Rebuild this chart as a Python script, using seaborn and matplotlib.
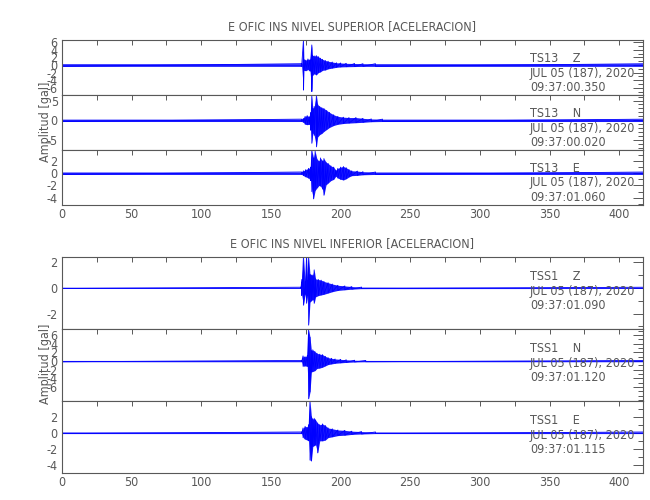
import numpy as np
import pandas as pd
import matplotlib
matplotlib.use("Agg")
import matplotlib.pyplot as plt
from matplotlib.ticker import MultipleLocator, FixedLocator
from matplotlib import font_manager as fm
import seaborn as sns

sns.set_theme(style="white")

# pick a narrow font if one is available
_fonts = fm.fontManager.ttflist
_narrow = [f for f in _fonts if f.name == "Liberation Sans Narrow"]
_cond = [f for f in _fonts if f.name == "DejaVu Sans" and str(f.stretch) in ("condensed", "semi-condensed", "600", "700")]
if _narrow:
    FAMILY, STRETCH, FS = ["Liberation Sans Narrow", "DejaVu Sans"], "normal", 10
elif _cond:
    FAMILY, STRETCH, FS = ["DejaVu Sans", "DejaVu Sans"], "condensed", 9
else:
    FAMILY, STRETCH, FS = ["Liberation Sans", "DejaVu Sans"], "normal", 8.6
plt.rcParams["font.family"] = FAMILY
plt.rcParams["font.stretch"] = STRETCH
plt.rcParams["axes.unicode_minus"] = False

GRAY = "#585858"
BLUE = "#0000ff"

# ---------------- data (envelopes, gal) ----------------
title_top = "E OFIC INS NIVEL SUPERIOR [ACELERACION]"
title_bot = "E OFIC INS NIVEL INFERIOR [ACELERACION]"
ylabel = "Amplitud [gal]"
x_ticks = [0, 50, 100, 150, 200, 250, 300, 350, 400]
y_ticks = [
    [-6, -4, -2, 0, 2, 4, 6],
    [-5, 0, 5],
    [-4, -2, 0, 2],
    [-2, 0, 2],
    [-6, -4, -2, 0, 2, 4, 6],
    [-4, -2, 0, 2],
]

# TS13 Z
t_s13z = [0, 172, 173.3, 173.6, 175, 176.5, 178, 179.3, 179.7, 181, 182.5, 184, 185.5, 187, 189, 191, 194, 197, 200, 204, 210, 216, 225, 420]
up_s13z = [0.35, 0.35, 6.6, 1.5, 1.3, 1.6, 1.4, 5.3, 2.6, 2.4, 2.5, 2.2, 1.8, 1.5, 1.2, 1.0, 0.8, 0.6, 0.55, 0.45, 0.4, 0.35, 0.35, 0.35]
lo_s13z = [-0.35, -0.35, -6.6, -1.4, -1.5, -1.2, -1.6, -7.0, -2.8, -2.3, -2.6, -2.0, -1.8, -1.4, -1.3, -1.0, -0.8, -0.6, -0.5, -0.45, -0.4, -0.35, -0.35, -0.35]

# TS13 N
t_s13n = [0, 172, 173.3, 174.5, 176, 177.5, 178.5, 179.3, 180, 181, 182.6, 183.5, 185, 186.5, 188, 190, 192, 195, 198, 202, 206, 211, 216, 222, 230, 420]
up_s13n = [0.3, 0.3, 0.5, 1.0, 1.2, 0.9, 2.0, 6.2, 3.0, 3.5, 6.3, 4.0, 3.5, 3.2, 3.0, 2.5, 2.0, 1.4, 1.0, 0.8, 0.7, 0.7, 0.5, 0.35, 0.3, 0.3]
lo_s13n = [-0.3, -0.3, -0.5, -1.0, -1.1, -1.0, -2.5, -5.8, -3.2, -3.8, -6.7, -4.2, -3.6, -3.3, -2.8, -2.3, -1.8, -1.3, -1.0, -0.8, -0.7, -0.6, -0.5, -0.35, -0.3, -0.3]

# TS13 E
t_s13e = [0, 172, 173.3, 175, 177, 178.5, 179.3, 180.5, 181.7, 183, 184.5, 185.5, 187, 188, 189.5, 191, 193, 195, 196.5, 198, 200, 202, 204, 206, 208, 212, 216, 225, 420]
up_s13e = [0.2, 0.2, 0.4, 0.6, 0.8, 1.0, 3.8, 2.5, 3.6, 2.3, 2.0, 2.5, 2.0, 2.4, 1.8, 1.6, 1.2, 1.0, 0.5, 0.8, 1.0, 1.1, 0.9, 0.6, 0.4, 0.35, 0.25, 0.2, 0.2]
lo_s13e = [-0.2, -0.2, -0.4, -0.6, -0.8, -1.2, -3.0, -4.2, -2.8, -2.4, -2.0, -2.1, -2.6, -3.6, -1.9, -1.6, -1.2, -1.0, -0.5, -0.8, -1.0, -1.1, -0.9, -0.6, -0.4, -0.35, -0.25, -0.2, -0.2]

# TSS1 Z
t_ss1z = [0, 171.5, 172.1, 173.3, 174.5, 175.5, 176.3, 177, 178, 179, 180, 181, 182, 184, 186, 188, 191, 194, 198, 203, 208, 215, 420]
up_ss1z = [0.05, 0.05, 0.65, 2.45, 0.5, 2.45, 0.6, 2.4, 1.05, 1.0, 1.0, 1.4, 0.7, 0.65, 0.6, 0.5, 0.4, 0.3, 0.2, 0.15, 0.1, 0.06, 0.05]
lo_ss1z = [-0.05, -0.05, -0.6, -1.35, -0.5, -1.2, -0.6, -2.9, -1.1, -1.0, -0.9, -1.2, -0.7, -0.6, -0.55, -0.5, -0.4, -0.3, -0.2, -0.15, -0.1, -0.06, -0.05]

# TSS1 N
t_ss1n = [0, 172, 173, 174.5, 176, 177, 178, 179, 180, 181.5, 183, 185, 187, 189, 191, 193.5, 196, 200, 204, 210, 218, 420]
up_ss1n = [0.15, 0.15, 1.2, 1.0, 1.2, 7.3, 5.5, 2.4, 2.6, 2.2, 1.8, 1.6, 1.5, 1.1, 0.8, 0.65, 0.5, 0.4, 0.3, 0.2, 0.15, 0.15]
lo_ss1n = [-0.15, -0.15, -1.2, -1.1, -1.2, -8.7, -7.1, -2.5, -2.4, -2.2, -1.7, -1.6, -1.4, -1.1, -0.8, -0.65, -0.5, -0.4, -0.3, -0.2, -0.15, -0.15]

# TSS1 E
t_ss1e = [0, 172, 173, 174.5, 176, 177, 178, 179, 180, 181, 182, 183.5, 185, 187, 189, 191, 194, 198, 203, 208, 215, 225, 420]
up_ss1e = [0.1, 0.1, 0.6, 0.8, 0.7, 1.0, 4.0, 2.0, 1.7, 1.8, 1.6, 1.2, 1.0, 1.1, 0.9, 0.6, 0.5, 0.35, 0.3, 0.2, 0.15, 0.1, 0.1]
lo_ss1e = [-0.1, -0.1, -0.6, -0.8, -0.9, -1.0, -3.4, -3.5, -1.7, -1.6, -1.5, -2.5, -1.0, -1.0, -0.9, -0.6, -0.5, -0.35, -0.3, -0.2, -0.15, -0.1, -0.1]

labels = [
    "TS13    Z\nJUL 05 (187), 2020\n09:37:00.350",
    "TS13    N\nJUL 05 (187), 2020\n09:37:00.020",
    "TS13    E\nJUL 05 (187), 2020\n09:37:01.060",
    "TSS1    Z\nJUL 05 (187), 2020\n09:37:01.090",
    "TSS1    N\nJUL 05 (187), 2020\n09:37:01.120",
    "TSS1    E\nJUL 05 (187), 2020\n09:37:01.115",
]

channels = [
    (t_s13z, up_s13z, lo_s13z),
    (t_s13n, up_s13n, lo_s13n),
    (t_s13e, up_s13e, lo_s13e),
    (t_ss1z, up_ss1z, lo_ss1z),
    (t_ss1n, up_ss1n, lo_ss1n),
    (t_ss1e, up_ss1e, lo_ss1e),
]

# layout / axis settings (style, not data)
W, H = 650, 500
left_px, right_px = 62, 643
panels_px = [(40, 95), (95, 150), (150, 205), (257, 329), (329, 401), (401, 473)]
ylims = [(-7.9, 6.6), (-7.5, 6.4), (-5.2, 3.8), (-3.2, 2.4), (-9.2, 7.4), (-5.0, 3.95)]
text_top_px = [12, 12, 12, 13, 13, 13]

fig = plt.figure(figsize=(W / 100, H / 100), dpi=100)
for i, ((top, bot), (t, up, lo)) in enumerate(zip(panels_px, channels)):
    ax = fig.add_axes([left_px / W, 1 - bot / H, (right_px - left_px) / W, (bot - top) / H])
    tt, vv = [], []
    for a, u, l in zip(t, up, lo):
        tt += [a, a]
        vv += [u, l]
    df = pd.DataFrame({"t": tt, "v": vv})
    ax.fill_between(t, lo, up, color=BLUE, lw=0, alpha=0.9)
    sns.lineplot(data=df, x="t", y="v", sort=False, estimator=None, color=BLUE,
                 lw=0.6, ax=ax, legend=False)
    ax.set_xlim(0, 417)
    ax.set_ylim(*ylims[i])
    ax.xaxis.set_major_locator(MultipleLocator(50))
    ax.xaxis.set_minor_locator(MultipleLocator(25))
    ax.yaxis.set_major_locator(FixedLocator(y_ticks[i]))
    ax.yaxis.set_minor_locator(MultipleLocator(1))
    ax.tick_params(axis="both", which="both", direction="in", top=True, right=True,
                   colors=GRAY, labelcolor=GRAY, labelsize=FS, width=0.7)
    ax.tick_params(axis="x", which="both", length=3.6, pad=2)
    ax.tick_params(axis="y", which="major", length=7, pad=3)
    ax.tick_params(axis="y", which="minor", length=3.6)
    ax.set_xlabel("")
    ax.set_ylabel("")
    if i in (2, 5):
        ax.set_xticks(x_ticks)
    else:
        ax.tick_params(axis="x", labelbottom=False)
    for s in ax.spines.values():
        s.set_color(GRAY)
        s.set_linewidth(0.8)
    ax.text((530 - left_px) / (right_px - left_px), 1 - text_top_px[i] / (bot - top),
            labels[i], transform=ax.transAxes, ha="left", va="top", fontsize=FS,
            color=GRAY, linespacing=1.15, zorder=5)

fig.text((left_px + right_px) / 2 / W, 1 - 27 / H, title_top, ha="center", va="center",
         fontsize=FS, color=GRAY)
fig.text((left_px + right_px) / 2 / W, 1 - 244 / H, title_bot, ha="center", va="center",
         fontsize=FS, color=GRAY)
fig.text(45 / W, 1 - 122 / H, ylabel, rotation=90, ha="center", va="center",
         fontsize=FS, color=GRAY)
fig.text(45 / W, 1 - 364 / H, ylabel, rotation=90, ha="center", va="center",
         fontsize=FS, color=GRAY)

fig.savefig("out.png", dpi=100)
